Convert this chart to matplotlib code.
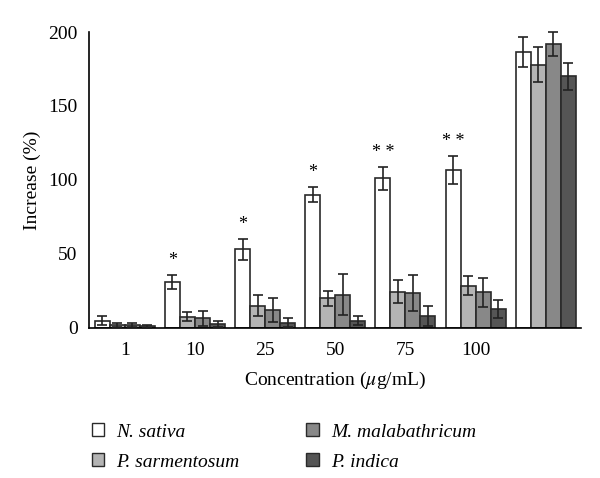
import numpy as np
import matplotlib.pyplot as plt

plt.rcParams['font.family'] = ['Liberation Serif', 'DejaVu Serif']
plt.rcParams['mathtext.fontset'] = 'stix'

# data
groups = ["1", "10", "25", "50", "75", "100", ""]
species = ["N. sativa", "P. sarmentosum", "M. malabathricum", "P. indica"]
n_sativa = [5, 31, 53, 90, 101, 107, 186.5]
n_sativa_err = [3, 5, 7, 5, 8, 9.5, 10]
p_sarm = [2, 7.5, 15, 20, 24.5, 28.5, 178]
p_sarm_err = [1.5, 3, 7, 5, 8, 6.5, 12]
m_mal = [2, 6.5, 12, 22.5, 23.5, 24, 192]
m_mal_err = [1.5, 5, 8, 14, 12, 10, 8]
p_ind = [1, 2.5, 3.5, 5, 8, 13, 170]
p_ind_err = [1, 2, 3, 3, 7, 6, 9]
stars = ["", "*", "*", "*", "* *", "* *", ""]

values = [n_sativa, p_sarm, m_mal, p_ind]
errors = [n_sativa_err, p_sarm_err, m_mal_err, p_ind_err]
colors = ["#ffffff", "#b4b4b4", "#888888", "#555555"]

fig = plt.figure(figsize=(6, 4.78), dpi=100)
ax = fig.add_axes([0.148, 0.314, 0.82, 0.619])

x = np.arange(len(groups))
w = 0.214
for i, (vals, errs) in enumerate(zip(values, errors)):
    pos = x - 1.5 * w + i * w
    ax.bar(pos, vals, w, color=colors[i], edgecolor="#2a2a2a", linewidth=1.2,
           label=species[i], zorder=2)
    ax.errorbar(pos, vals, yerr=errs, fmt="none", ecolor="#222222",
                elinewidth=1.2, capsize=3.5, capthick=1.2, zorder=3, clip_on=False)

# significance marks over N. sativa
for xi, s, v, e in zip(x, stars, n_sativa, n_sativa_err):
    if s:
        ax.text(xi - 1.5 * w, v + e + 4, s, ha="center", va="bottom", fontsize=13)

ax.set_xlim(-0.514, 6.5)
ax.set_ylim(0, 200)
ax.set_yticks([0, 50, 100, 150, 200])
ax.set_xticks(x[:6])
ax.set_xticklabels(groups[:6])
ax.tick_params(axis="both", length=0, labelsize=14)
ax.tick_params(axis="x", pad=10)
ax.tick_params(axis="y", pad=8)
ax.spines["top"].set_visible(False)
ax.spines["right"].set_visible(False)
ax.spines["left"].set_linewidth(1.2)
ax.spines["bottom"].set_linewidth(1.2)

ax.set_xlabel("Concentration ($\\mu$g/mL)", fontsize=14, labelpad=8)
ax.set_ylabel("Increase (%)", fontsize=14, labelpad=5)

leg = fig.legend(loc="upper left", bbox_to_anchor=(0.153, 0.1145), ncol=2,
                 frameon=False, handlelength=0.65, handleheight=0.65,
                 columnspacing=3.45, labelspacing=0.65, handletextpad=0.6,
                 borderpad=0, borderaxespad=0,
                 prop={"style": "italic", "size": 14})
for h in leg.legend_handles:
    h.set_linewidth(1.0)

fig.savefig("out.png", dpi=100)
